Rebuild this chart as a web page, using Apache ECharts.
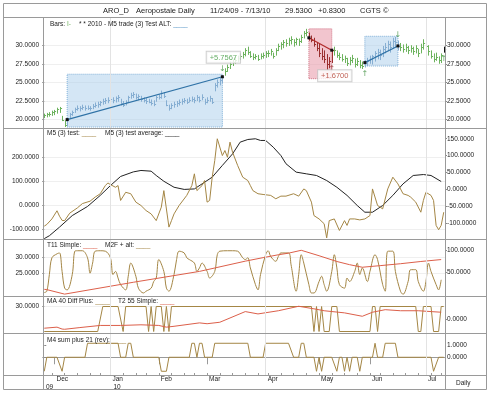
<!DOCTYPE html>
<html><head><meta charset="utf-8">
<script src="https://cdn.jsdelivr.net/npm/echarts@6/dist/echarts.min.js"></script>
<style>html,body{margin:0;padding:0;background:#fff}#c{width:490px;height:393px}</style>
</head><body><div id="c"></div>
<script>
// ---------- DATA ----------
const HOLIDAYS = ['2009-11-26','2009-12-25','2010-01-01','2010-01-18','2010-02-15','2010-04-02','2010-05-31','2010-07-05'];
const MONTHS = ['Jan','Feb','Mar','Apr','May','Jun','Jul','Aug','Sep','Oct','Nov','Dec'];
const priceTicks = [20, 22.5, 25, 27.5, 30];

const priceLow = [20.2,20.3,20.4,20.5,20.6,20.8,20.9,19.8,19.0,19.1,20.2,20.5,20.9,21.2,21.1,21.3,21.2,21.3,21.2,21.4,
21.6,21.6,21.8,22.0,22.1,22.2,22.3,22.2,22.3,22.4,21.9,21.7,21.9,22.3,22.8,22.9,22.7,22.6,22.4,22.3,
22.1,22.2,21.9,21.8,22.4,22.7,22.8,22.9,21.8,21.2,21.4,21.6,21.7,21.9,22.0,22.2,22.1,22.3,22.4,22.2,
22.5,22.3,22.6,22.0,22.2,22.4,22.1,23.8,24.3,24.6,24.9,25.9,26.4,26.8,27.2,27.5,27.7,28.0,28.2,28.5,
28.7,28.3,28.0,28.1,27.9,28.1,28.2,28.3,28.4,28.6,28.2,28.6,29.2,29.4,29.6,29.8,29.9,30.1,29.8,30.0,
29.9,30.3,30.9,31.2,30.6,30.4,29.8,29.2,28.4,28.0,27.6,26.7,26.9,27.6,28.6,28.3,28.0,27.8,27.6,27.2,
27.3,27.6,27.0,27.2,26.9,26.8,27.0,27.2,27.5,27.4,27.8,28.1,28.0,28.4,28.9,29.2,29.0,29.5,29.7,29.3,
29.2,29.0,29.1,28.8,29.0,28.7,28.9,28.4,28.9,29.4,29.2,28.6,28.2,27.7,27.9,27.5,27.6,29.0];
const priceHigh = [20.8,20.9,21.0,21.2,21.3,21.6,21.7,20.5,19.9,20.2,20.9,21.2,21.6,21.9,21.8,22.0,21.9,21.9,21.8,22.1,
22.3,22.4,22.5,22.8,22.9,23.0,23.1,23.0,23.1,23.3,22.8,22.5,22.6,23.2,23.6,23.7,23.5,23.4,23.2,23.0,
22.9,22.8,22.7,22.6,23.2,23.4,23.9,23.7,22.6,22.0,22.2,22.4,22.5,22.7,22.8,22.9,22.8,23.0,23.1,23.0,
23.3,23.1,23.4,22.8,23.0,23.2,22.9,24.9,25.4,25.6,26.0,26.9,27.4,27.8,28.1,28.4,28.6,28.9,29.1,29.6,
29.8,29.2,28.9,28.8,28.7,28.9,29.0,29.2,29.3,29.5,29.0,29.6,30.2,30.4,30.7,30.8,31.0,31.2,30.8,31.0,
30.9,31.4,31.9,32.2,31.7,31.3,31.0,30.4,30.2,29.6,29.3,28.8,28.4,29.5,29.8,29.3,29.0,28.8,28.6,28.3,
28.4,28.7,28.2,28.3,28.0,27.8,28.0,28.3,28.6,28.7,29.2,29.5,29.4,29.9,30.3,30.6,30.5,31.0,31.1,30.6,
30.3,30.1,30.2,29.9,30.0,29.8,30.0,29.5,30.2,30.8,30.7,30.0,29.3,28.9,29.0,28.5,28.9,29.8];
const priceClose = [20.6,20.7,20.8,21.0,21.1,21.4,21.5,20.0,19.3,20.0,20.7,21.0,21.4,21.5,21.6,21.7,21.5,21.6,21.5,21.8,
22.0,22.1,22.3,22.5,22.6,22.7,22.8,22.6,22.9,23.0,22.2,22.0,22.3,23.0,23.3,23.4,23.1,23.2,22.8,22.6,
22.5,22.4,22.2,22.1,23.0,23.1,23.6,23.2,22.0,21.5,21.9,22.1,22.2,22.4,22.5,22.6,22.4,22.7,22.8,22.6,
23.0,22.6,23.1,22.3,22.7,22.9,22.4,24.6,25.1,25.3,25.7567,26.5,27.1,27.5,27.8,28.0,28.3,28.6,28.8,29.3,
29.1,28.6,28.4,28.5,28.2,28.6,28.7,28.9,29.0,29.2,28.5,29.3,29.9,30.1,30.4,30.3,30.7,30.9,30.4,30.8,
30.5,31.1,31.6,31.8,31.0,30.7,30.1,29.6,29.0,28.6,28.2,27.5,27.9,29.33,29.3,28.7,28.4,28.1,28.3,27.6,
28.0,28.3,27.5,27.9,27.3,27.2,27.66,27.9,28.2,28.5,28.9,29.1,28.7,29.5,29.8,30.1,29.8,30.6,30.4,29.9,
29.7,29.5,29.8,29.3,29.6,29.2,29.6,28.9,29.8,30.3,29.9,29.2,28.6,28.1,28.4,28.0,28.7,29.53];

// trades (day index of entry/exit, prices, box extent)
const tradeStart = [9, 104, 126];
const tradeEnd   = [70, 113, 139];
const tradeEntry = [20.0, 31.0, 27.66];
const tradeExit  = [25.7567, 29.33, 29.9];
const tradeSide  = ['long', 'short', 'long'];
const tradeBoxLow  = [19.0, 25.5, 27.2];
const tradeBoxHigh = [26.1, 32.2, 31.2];
const tradeShowLabel = [true, true, false];

const arrowDay = [70, 113, 126, 139, 157];
const arrowDir = ['down', 'up', 'up', 'down', 'up'];
const arrowKind = ['win', 'loss', 'win', 'win', 'win'];

// [day index, value]
const m5Test = [[0,-86],[1,-79],[3,-56],[5,-22],[6,-45],[7,-62],[8,-63],[10,-32],[13,-10],[15,8],[18,18],[20,35],[22,49],[24,83],[25,94],[26,87],[28,76],[29,83],[30,21],[32,55],[34,49],[36,14],[38,0],[40,-21],[42,-35],[44,-63],[46,-7],[47,62],[49,-90],[50,-63],[51,-35],[53,0],[56,42],[58,83],[59,132],[60,62],[62,83],[63,104],[64,14],[65,21],[66,118],[67,187],[68,278],[70,208],[71,229],[72,201],[73,264],[74,222],[76,167],[78,118],[80,104],[81,83],[82,62],[84,49],[86,46],[89,42],[91,28],[93,39],[95,39],[98,49],[100,39],[102,69],[103,62],[105,14],[106,-42],[108,-56],[110,-76],[111,-135],[112,-63],[114,-56],[116,-104],[118,-63],[119,-83],[120,-56],[122,-56],[124,-60],[126,-56],[128,-42],[129,69],[131,0],[133,-14],[135,69],[137,118],[139,90],[141,49],[143,42],[144,35],[146,14],[148,-28],[149,21],[150,55],[152,42],[153,21],[154,-83],[155,-101],[156,-83],[157,-28]];
const m5Avg = [[0,-138],[2,-126],[6,-90],[11,-42],[17,-4],[22,42],[26,83],[30,121],[35,140],[38,146],[42,143],[44,125],[47,101],[51,76],[55,67],[59,69],[62,90],[66,118],[70,167],[74,215],[77,264],[80,275],[83,278],[85,271],[87,271],[90,243],[93,208],[95,174],[99,139],[103,132],[107,125],[111,104],[115,76],[119,42],[123,0],[126,-28],[129,-28],[133,0],[137,42],[141,90],[145,125],[149,129],[152,125],[156,100]];
const t11Simple = [[0,19.9],[1,19.8],[8,18.4],[35,22.1],[61,25.5],[79,28.7],[86,29.8],[92,30.7],[96,31.2],[101,32.1],[108,30.4],[115,28.6],[120,27.6],[125,26.8],[132,27.3],[140,27.9],[148,28.6],[156,29.2]];
const m2fAlt = [[0,4],[1,7],[2,45],[3,83],[5,92],[6,94],[7,52],[8,14],[9,10],[11,45],[12,98],[13,99],[15,99],[17,83],[18,48],[19,71],[20,98],[22,99],[24,98],[26,83],[27,45],[28,52],[29,37],[30,22],[32,10],[33,41],[34,71],[36,41],[37,14],[39,3],[40,7],[42,14],[43,29],[44,37],[45,79],[47,52],[48,14],[49,7],[51,45],[52,79],[53,98],[55,94],[56,83],[57,79],[59,71],[60,52],[61,60],[62,71],[64,52],[65,37],[67,52],[68,90],[69,98],[72,99],[74,99],[76,98],[78,83],[79,79],[80,83],[81,60],[83,22],[84,10],[85,45],[87,90],[88,99],[89,86],[91,75],[92,86],[93,94],[96,94],[97,67],[99,7],[100,45],[101,90],[102,71],[104,22],[105,3],[106,3],[108,29],[109,41],[110,22],[111,7],[113,52],[114,90],[115,60],[116,22],[118,14],[119,37],[120,29],[122,52],[123,71],[124,45],[125,60],[127,29],[128,52],[130,90],[131,79],[133,22],[134,7],[135,98],[137,98],[138,52],[140,7],[141,0],[143,29],[144,56],[146,56],[147,29],[149,7],[150,29],[151,71],[152,52],[154,22],[155,10],[156,33]];
const ma40Diff = [[0,-1],[21,-1],[23,1],[29,1],[31,-1],[32,1],[40,1],[41,-1],[42,1],[43,-1],[44,1],[46,1],[47,-1],[48,1],[49,-1],[50,1],[105,1],[106,-1],[107,1],[108,-1],[109,1],[110,-1],[112,-1],[113,1],[115,1],[116,-1],[128,-1],[129,1],[130,1],[131,-1],[132,1],[146,1],[147,-1],[148,-1],[149,1],[152,1],[153,-1],[155,-1],[156,1],[157,1]];
const t2Simple = [[0,19.9],[5,20.4],[7,19.5],[8,19.4],[14,20.2],[22,21.2],[30,21.2],[38,21.5],[45,21.2],[48,20.4],[51,20.8],[61,22.4],[64,22.0],[69,22.7],[79,27.7],[84,26.6],[92,28.1],[100,30.2],[106,29.0],[110,28.1],[118,27.1],[125,25.5],[129,27.4],[134,28.6],[140,28.1],[147,28.1],[152,27.7],[156,27.4]];
const m4Sum = [[0,-1.2],[1,0],[5,0],[7,-1.2],[8,0],[16,0],[17,1.2],[29,1.2],[30,0],[32,0],[33,1.2],[34,1.2],[35,0],[45,0],[46,-1.2],[48,-1.2],[49,0],[57,0],[58,1.2],[59,1.2],[60,0],[61,1.2],[62,1.2],[63,0],[66,0],[67,1.2],[80,1.2],[81,0],[86,0],[87,1.2],[96,1.2],[98,0],[100,0],[101,1.2],[102,1.2],[103,0],[106,0],[107,-1.2],[108,0],[109,-1.2],[110,0],[113,0],[115,-1.2],[116,0],[117,0],[118,-1.2],[119,0],[120,-1.2],[121,0],[123,0],[124,-1.2],[125,0],[129,0],[130,1.2],[131,0],[133,0],[134,1.2],[138,1.2],[139,0],[152,0],[153,-1.2],[155,0],[157,0]];

// ---------- CATEGORIES (trading days) ----------
function tradingDays(from, to) {
  const hol = new Set(HOLIDAYS); const out = [];
  for (let t = Date.parse(from + 'T00:00:00Z'); t <= Date.parse(to + 'T00:00:00Z'); t += 86400000) {
    const d = new Date(t), wd = d.getUTCDay(), s = d.toISOString().slice(0, 10);
    if (wd !== 0 && wd !== 6 && !hol.has(s)) out.push(s);
  }
  return out;
}
const dates = tradingDays('2009-11-24', '2010-07-13');
const N = dates.length;
const monthStarts = [], yearStarts = [0], weekStarts = [];
for (let i = 1; i < N; i++) {
  if (dates[i].slice(5, 7) !== dates[i - 1].slice(5, 7)) monthStarts.push(i);
  if (dates[i].slice(0, 4) !== dates[i - 1].slice(0, 4)) yearStarts.push(i);
  if (new Date(dates[i]).getUTCDay() <= new Date(dates[i - 1]).getUTCDay()) weekStarts.push(i);
}
const quarterStarts = monthStarts.filter(i => ['01', '04', '07', '10'].includes(dates[i].slice(5, 7)));

// ---------- STYLE ----------
const FONT = '"Liberation Sans", Arial, sans-serif';
const C = { green: '#6db35e', greenTxt: '#3f9a3f', blueBar: '#86aed2', redBar: '#9b2f2f', tan: '#a48645', red: '#dc5f4a', black: '#222', frame: '#9a9a9a', grid: '#efefef', vgrid: '#e3e3e3' };
const XMIN = -0.5, XMAX = N - 0.5;
const panels = [[17, 128], [128, 239], [239, 296], [296, 333], [333, 375]];

function xAx(g) { return { type: 'value', gridIndex: g, min: XMIN, max: XMAX, show: false }; }
function yAx(g, pos, min, max, labels, split) {
  return {
    type: 'value', gridIndex: g, position: pos, min, max,
    axisLine: { show: false },
    axisTick: { show: labels.length > 0, customValues: labels, length: 2, lineStyle: { color: '#888' } },
    axisLabel: { show: labels.length > 0, customValues: labels, formatter: v => v.toFixed(4), fontSize: 6.5, color: '#222', fontFamily: FONT, margin: pos === 'left' ? 4 : 2 },
    splitNumber: split || 5,
    splitLine: { show: !!split, lineStyle: { color: C.grid, width: 1 } }
  };
}
function qLines(xi, yi) {
  return { type: 'line', xAxisIndex: xi, yAxisIndex: yi, data: [], silent: true, z: 0,
    markLine: { silent: true, symbol: 'none', animation: false, label: { show: false }, lineStyle: { color: C.vgrid, type: 'solid', width: 1 }, data: quarterStarts.map(d => ({ xAxis: d })) } };
}
function ln(xi, yi, data, color, extra) {
  return Object.assign({ type: 'line', xAxisIndex: xi, yAxisIndex: yi, data, showSymbol: false, symbol: 'none', lineStyle: { color, width: 1 }, itemStyle: { color }, z: 3, silent: true }, extra || {});
}

function barColor(i) {
  if (i === N - 1) return '#111';
  for (let k = 0; k < tradeStart.length; k++) {
    if (i >= tradeStart[k] && i <= tradeEnd[k]) return tradeSide[k] === 'short' ? C.redBar : C.blueBar;
  }
  return C.green;
}

const series = [];
// vertical quarter gridlines
for (let g = 0; g < 5; g++) series.push(qLines(g, g * 2));
// trade boxes
series.push({
  type: 'scatter', xAxisIndex: 0, yAxisIndex: 0, symbolSize: 0, data: tradeStart.map((s, k) => [s, tradeEntry[k]]), z: 1, silent: true,
  markArea: { silent: true, data: tradeStart.map((s, k) => [
    { xAxis: s, yAxis: tradeBoxLow[k], itemStyle: { color: tradeSide[k] === 'short' ? 'rgba(232,150,165,0.55)' : 'rgba(170,205,235,0.5)', borderColor: tradeSide[k] === 'short' ? '#d07585' : '#80b0d8', borderWidth: 1, borderType: 'dotted' } },
    { xAxis: tradeEnd[k], yAxis: tradeBoxHigh[k] }]) }
});
// OHLC bars
series.push({
  type: 'custom', xAxisIndex: 0, yAxisIndex: 0, z: 3, silent: true,
  data: dates.map((_, i) => [i, priceLow[i], priceHigh[i], priceClose[i]]),
  encode: { x: 0, y: [1, 2, 3] },
  renderItem: (params, api) => {
    const i = api.value(0);
    const lo = api.coord([i, api.value(1)]), hi = api.coord([i, api.value(2)]), cl = api.coord([i, api.value(3)]);
    const x = Math.round(lo[0]) + 0.5, yc = Math.round(cl[1]) + 0.5, col = barColor(i);
    return { type: 'group', children: [
      { type: 'line', shape: { x1: x, y1: hi[1], x2: x, y2: lo[1] }, style: { stroke: col, lineWidth: 1 } },
      { type: 'line', shape: { x1: x, y1: yc, x2: x + 1.6, y2: yc }, style: { stroke: col, lineWidth: 1 } }
    ] };
  }
});
// trend lines
tradeStart.forEach((s, k) => {
  series.push({ type: 'line', xAxisIndex: 0, yAxisIndex: 0, data: [[s, tradeEntry[k]], [tradeEnd[k], tradeExit[k]]], symbol: 'rect', symbolSize: 3, showSymbol: true,
    lineStyle: { color: tradeSide[k] === 'short' ? '#b02a2a' : '#2f72a6', width: 1.2 }, itemStyle: { color: '#111' }, z: 5, silent: true });
});
// arrows
series.push({ type: 'scatter', xAxisIndex: 0, yAxisIndex: 0, symbolSize: 0, z: 6, silent: true,
  data: arrowDay.map((d, k) => ({ value: [d, arrowDir[k] === 'up' ? priceLow[d] : priceHigh[d]],
    label: { show: true, formatter: arrowDir[k] === 'up' ? '\u2191' : '\u2193', position: arrowDir[k] === 'up' ? 'bottom' : 'top', distance: 2,
      color: arrowKind[k] === 'loss' ? '#8e2222' : '#3d8f3d', fontSize: 8, fontFamily: 'DejaVu Sans' } })) });
// trade result labels
series.push({ type: 'scatter', xAxisIndex: 0, yAxisIndex: 0, symbolSize: 0, z: 7, silent: true,
  data: tradeStart.map((s, k) => k).filter(k => tradeShowLabel[k]).map(k => {
    const p = tradeSide[k] === 'short' ? tradeEntry[k] - tradeExit[k] : tradeExit[k] - tradeEntry[k];
    const up = tradeSide[k] !== 'short';
    return { value: [tradeEnd[k], tradeExit[k]], label: { show: true, formatter: (p >= 0 ? '+' : '') + p.toFixed(4), position: up ? 'top' : 'bottom', distance: up ? 14 : 20, offset: [up ? 1 : 3, 0],
      color: up ? C.greenTxt : '#b03a2a', fontSize: 7.5, fontFamily: FONT, backgroundColor: '#fff', borderColor: '#c4c4c4', borderWidth: 1, padding: [2, 3, 1, 3] } };
  }) });
// indicator panels
series.push(ln(1, 2, m5Avg, C.black));
series.push(ln(1, 2, m5Test, C.tan));
series.push(ln(2, 5, m2fAlt, C.tan, { smooth: 0.35 }));
series.push(ln(2, 4, t11Simple, C.red));
series.push(ln(3, 7, ma40Diff, C.tan));
series.push(ln(3, 6, t2Simple, C.red));
series.push(ln(4, 9, m4Sum, C.tan));

// ---------- GRAPHICS (frame + texts) ----------
const G = [];
function hl(y, x1, x2) { G.push({ type: 'line', shape: { x1, y1: y + 0.5, x2, y2: y + 0.5 }, style: { stroke: C.frame, lineWidth: 1 }, z: 50, silent: true }); }
function vl(x, y1, y2) { G.push({ type: 'line', shape: { x1: x + 0.5, y1, x2: x + 0.5, y2 }, style: { stroke: C.frame, lineWidth: 1 }, z: 50, silent: true }); }
G.push({ type: 'rect', shape: { x: 3.5, y: 3.5, width: 483, height: 386 }, style: { fill: null, stroke: C.frame, lineWidth: 1 }, z: 50, silent: true });
[17, 128, 239, 296, 333, 375].forEach(y => hl(y, 3, 487));
vl(43, 17, 390); vl(445, 17, 390);
function txt(x, y, text, size, rich, extra) {
  G.push(Object.assign({ type: 'text', x, y, z: 60, silent: true, style: { text, fill: '#222', font: size + 'px ' + FONT, fontSize: size, fontFamily: FONT, textVerticalAlign: 'middle', rich: rich || {} } }, extra || {}));
}
const u = c => ({ fill: c, fontSize: 6.5, fontFamily: FONT });
txt(103, 10.5, 'ARO_D', 7.5); txt(136, 10.5, 'Aeropostale Daily', 7.5); txt(210, 10.5, '11/24/09 - 7/13/10', 7.5);
txt(285, 10.5, '29.5300', 7.5); txt(318, 10.5, '+0.8300', 7.5); txt(360, 10.5, 'CGTS \u00a9', 7.5);
txt(50, 24.5, 'Bars: {g|I-}', 6.5, { g: u(C.green) });
txt(79, 24.5, '* * 2010 - M5 trade (3) Test ALT: {b|____}', 6.5, { b: u('#5a98c8') });
txt(47, 133, 'M5 (3) test: {a|____}', 6.5, { a: u(C.tan) });
txt(105, 133, 'M5 (3) test average: {a|____}', 6.5, { a: u(C.black) });
txt(47, 245, 'T11 Simple: {a|____}', 6.5, { a: u(C.red) });
txt(105, 245, 'M2F + alt: {a|____}', 6.5, { a: u(C.tan) });
txt(47, 301.5, 'MA 40 Diff Plus: {a|____}', 6.5, { a: u(C.tan) });
txt(118, 301.5, 'T2 55 Simple: {a|____}', 6.5, { a: u(C.red) });
txt(47, 340, 'M4 sum plus 21 (rev): {a|____}', 6.5, { a: u(C.tan) });
txt(456, 383, 'Daily', 6.5);

// ---------- OPTION ----------
const chart = echarts.init(document.getElementById('c'), null, { renderer: 'canvas' });
const option = {
  animation: false,
  backgroundColor: '#fff',
  textStyle: { fontFamily: FONT },
  grid: panels.map(([t, b]) => ({ left: 43, right: 45, top: t, height: b - t, show: false })),
  xAxis: [xAx(0), xAx(1), xAx(2), xAx(3),
    { type: 'value', gridIndex: 4, min: XMIN, max: XMAX, position: 'bottom',
      axisLine: { show: true, lineStyle: { color: '#888' } },
      axisTick: { show: true, customValues: monthStarts, length: 7, lineStyle: { color: '#999' } },
      axisLabel: { customValues: monthStarts, formatter: v => MONTHS[+dates[Math.round(v)].slice(5, 7) - 1], align: 'left', padding: [0, 0, 0, 2], margin: 1, fontSize: 6.5, color: '#222', fontFamily: FONT },
      splitLine: { show: false } },
    { type: 'value', gridIndex: 4, min: XMIN, max: XMAX, position: 'bottom', offset: 7.5,
      axisLine: { show: true, lineStyle: { color: C.frame } },
      axisTick: { show: true, customValues: yearStarts.slice(1), length: 7, lineStyle: { color: '#999' } },
      axisLabel: { customValues: yearStarts.map(i => i === 0 ? XMIN : i), formatter: v => dates[Math.max(0, Math.round(v))].slice(2, 4), align: 'left', padding: [0, 0, 0, 3], margin: 1, fontSize: 6.5, color: '#222', fontFamily: FONT },
      splitLine: { show: false } },
    { type: 'value', gridIndex: 4, min: XMIN, max: XMAX, position: 'bottom',
      axisLine: { show: false }, axisLabel: { show: false }, splitLine: { show: false },
      axisTick: { show: true, inside: true, customValues: weekStarts, length: 2, lineStyle: { color: '#999' } } }
  ],
  yAxis: [
    yAx(0, 'left', 18.87, 33.79, priceTicks, 30), yAx(0, 'right', 18.87, 33.79, priceTicks),
    yAx(1, 'left', -139.6, 322.9, [-100, 0, 100, 200], 22), yAx(1, 'right', -147.8, 181.9, [-100, -50, 0, 50, 100, 150]),
    yAx(2, 'left', 17.81, 35.63, [25, 30], 12), yAx(2, 'right', -3.86, 125.7, [50, 100]),
    yAx(3, 'left', 17.65, 35.02, [30], 8), yAx(3, 'right', -1.12, 1.84, [0]),
    yAx(4, 'left', -1.52, 2.08, [], 8), yAx(4, 'right', -1.52, 2.08, [0, 1])
  ],
  series,
  graphic: G
};
chart.setOption(option);
</script></body></html>
